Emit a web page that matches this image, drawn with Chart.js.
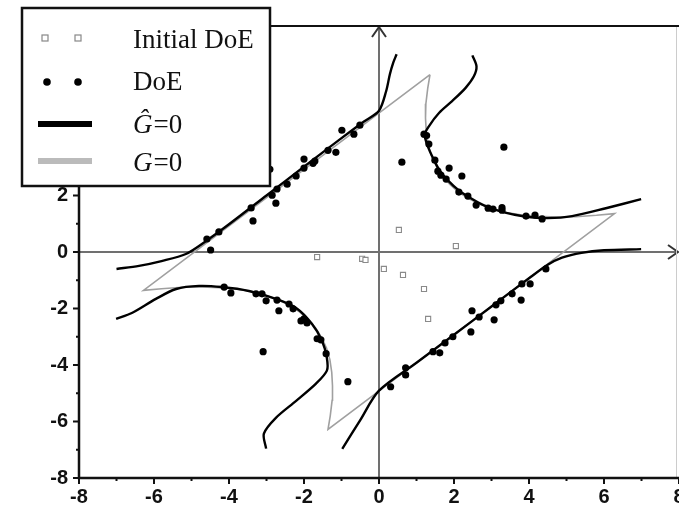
<!DOCTYPE html>
<html>
<head>
<meta charset="utf-8">
<script src="https://cdn.jsdelivr.net/npm/chart.js@4.4.0/dist/chart.umd.min.js"></script>
<style>
  html, body { margin: 0; padding: 0; background: #fff; }
  #wrap { width: 679px; height: 508px; }
</style>
</head>
<body>
<div id="wrap"><canvas id="limitChart"></canvas></div>
<script>
// axis ticks
var xTicks = [-8, -6, -4, -2, 0, 2, 4, 6, 8];
var yTicks = [-8, -6, -4, -2, 0, 2, 4, 6, 8];

var legendLabels = ['Initial DoE', 'DoE', 'Ĝ=0', 'G=0'];

// exact limit state G=0 (closed outline)
var limitState = [
  [1.36, 6.28], [1.30, 5.80], [1.25, 5.25], [1.24, 4.74], [1.26, 4.26], [1.31, 3.81],
  [1.40, 3.40], [1.53, 3.03], [1.69, 2.69], [1.89, 2.39], [2.12, 2.12], [2.39, 1.89],
  [2.69, 1.69], [3.03, 1.53], [3.40, 1.40], [3.81, 1.31], [4.26, 1.26], [4.74, 1.24],
  [5.25, 1.25], [5.80, 1.30], [6.28, 1.36],
  [-1.36, -6.28], [-1.30, -5.80], [-1.25, -5.25], [-1.24, -4.74], [-1.26, -4.26], [-1.31, -3.81],
  [-1.40, -3.40], [-1.53, -3.03], [-1.69, -2.69], [-1.89, -2.39], [-2.12, -2.12], [-2.39, -1.89],
  [-2.69, -1.69], [-3.03, -1.53], [-3.40, -1.40], [-3.81, -1.31], [-4.26, -1.26], [-4.74, -1.24],
  [-5.25, -1.25], [-5.80, -1.30], [-6.28, -1.36],
  [1.36, 6.28]
];

// surrogate limit state G^=0, four branches
var hatUpperLeft = [
  [-7.0, -0.60], [-6.4, -0.49], [-5.8, -0.32], [-5.15, -0.07], [-4.6, 0.40], [-4.0, 0.98],
  [-3.0, 2.0], [-2.0, 3.02], [-1.0, 4.03], [-0.4, 4.62], [0, 5.0], [0.19, 5.69],
  [0.29, 6.29], [0.38, 6.7], [0.47, 7.0]
];
var hatUpperRight = [
  [2.49, 6.96], [2.6, 6.57], [2.53, 6.22], [2.31, 5.81], [1.95, 5.34], [1.6, 4.92],
  [1.33, 4.45], [1.22, 4.15], [1.30, 3.75], [1.45, 3.30], [1.62, 2.88], [1.85, 2.52],
  [2.13, 2.18], [2.45, 1.90], [2.8, 1.65], [3.28, 1.42], [3.92, 1.25], [4.5, 1.2],
  [5.15, 1.27], [6.05, 1.55], [6.99, 1.87]
];
var hatLowerLeft = [
  [-7.01, -2.37], [-6.59, -2.16], [-5.95, -1.66], [-5.41, -1.31], [-4.8, -1.2], [-4.19, -1.24],
  [-3.47, -1.38], [-2.75, -1.66], [-2.21, -1.98], [-1.79, -2.54], [-1.52, -3.14], [-1.39, -3.75],
  [-1.39, -4.2], [-1.68, -4.66], [-2.21, -5.27], [-2.75, -5.87], [-3.07, -6.43], [-3.01, -6.96]
];
var hatLowerRight = [
  [-0.98, -6.97], [-0.5, -5.95], [0, -4.91], [1.0, -3.92], [2.0, -2.93], [3.0, -1.93],
  [4.0, -0.93], [4.5, -0.45], [4.88, -0.2], [5.4, -0.03], [6.0, 0.06], [6.99, 0.1]
];

// design of experiments
var initialDoe = [
  [-1.65, -0.18], [-0.45, -0.24], [-0.36, -0.28], [0.13, -0.6], [0.64, -0.81],
  [1.2, -1.31], [1.31, -2.37], [2.05, 0.21], [0.53, 0.78]
];
var doe = [
  [-4.49, 0.07], [-4.59, 0.46], [-4.27, 0.71], [-3.36, 1.10], [-3.41, 1.56], [-2.75, 1.73],
  [-2.85, 2.01], [-2.72, 2.23], [-2.91, 2.93], [-2.45, 2.40], [-2.21, 2.69], [-2.0, 2.97],
  [-2.0, 3.29], [-1.76, 3.14], [-1.71, 3.22], [-1.36, 3.6], [-1.15, 3.53], [-0.99, 4.31],
  [-0.67, 4.17], [-0.51, 4.49],
  [1.2, 4.17], [1.27, 4.12], [1.33, 3.82], [1.49, 3.25], [1.57, 2.86], [1.65, 2.72],
  [1.79, 2.58], [1.87, 2.97], [2.21, 2.69], [0.61, 3.18], [3.33, 3.71], [2.13, 2.12],
  [2.37, 1.98], [2.59, 1.66], [2.91, 1.55], [3.04, 1.52], [3.28, 1.48], [3.28, 1.57],
  [3.92, 1.27], [4.16, 1.31], [4.35, 1.17],
  [-4.13, -1.24], [-3.95, -1.45], [-3.28, -1.48], [-3.12, -1.48], [-3.01, -1.73], [-2.72, -1.70],
  [-2.67, -2.08], [-2.4, -1.84], [-2.29, -2.01], [-2.08, -2.44], [-2.0, -2.37], [-1.92, -2.51],
  [-1.65, -3.07], [-1.55, -3.11], [-1.41, -3.6], [-3.09, -3.53], [-0.83, -4.59],
  [0.31, -4.77], [0.71, -4.1], [0.71, -4.35], [1.44, -3.53], [1.62, -3.57], [1.76, -3.22],
  [1.97, -3.0], [2.45, -2.83], [2.48, -2.08], [2.67, -2.3], [3.07, -2.4], [3.12, -1.87],
  [3.25, -1.73], [3.55, -1.48], [3.79, -1.70], [3.81, -1.13], [4.03, -1.13], [4.45, -0.6]
];

function pts(list) {
  return list.map(function (p) { return { x: p[0], y: p[1] }; });
}

var GRAY_CURVE = '#a0a0a0';
var AXIS_GRAY = '#707070';

function hatCurve(list) {
  return {
    data: pts(list),
    showLine: true,
    borderColor: '#000',
    borderWidth: 2.4,
    pointRadius: 0,
    tension: 0.3,
    fill: false
  };
}

// axes through the origin with open arrow heads
var originAxes = {
  id: 'originAxes',
  beforeDatasetsDraw: function (chart) {
    var ctx = chart.ctx, area = chart.chartArea;
    var x0 = chart.scales.x.getPixelForValue(0);
    var y0 = chart.scales.y.getPixelForValue(0);
    var tipX = Math.min(area.right, chart.width - 1);
    ctx.save();
    ctx.strokeStyle = AXIS_GRAY;
    ctx.lineWidth = 2;
    ctx.beginPath();
    ctx.moveTo(area.left, y0); ctx.lineTo(tipX, y0);
    ctx.moveTo(x0, area.bottom); ctx.lineTo(x0, area.top + 1);
    ctx.stroke();
    ctx.strokeStyle = '#333';
    ctx.beginPath();
    ctx.moveTo(tipX - 10, y0 - 7); ctx.lineTo(tipX, y0); ctx.lineTo(tipX - 10, y0 + 7);
    ctx.moveTo(x0 - 7, area.top + 11); ctx.lineTo(x0, area.top + 1); ctx.lineTo(x0 + 7, area.top + 11);
    ctx.stroke();
    ctx.restore();
  }
};

// frame, tick marks and the legend box
var frameAndLegend = {
  id: 'frameAndLegend',
  afterDraw: function (chart) {
    var ctx = chart.ctx, area = chart.chartArea;
    var xs = chart.scales.x, ys = chart.scales.y;
    var edge = Math.min(area.right, chart.width) - 2.5;
    ctx.save();

    ctx.strokeStyle = '#ccc';
    ctx.lineWidth = 1;
    ctx.beginPath();
    ctx.moveTo(edge, area.top); ctx.lineTo(edge, area.bottom);
    ctx.stroke();

    ctx.strokeStyle = '#111';
    ctx.lineWidth = 2;
    ctx.beginPath();
    ctx.moveTo(area.left, area.top); ctx.lineTo(chart.width, area.top);
    ctx.stroke();

    ctx.lineWidth = 2.5;
    ctx.beginPath();
    ctx.moveTo(area.left, area.top); ctx.lineTo(area.left, area.bottom);
    ctx.lineTo(chart.width, area.bottom);
    ctx.stroke();

    ctx.lineWidth = 2;
    ctx.beginPath();
    for (var v = -8; v <= 8; v++) {
      var len = (v % 2 === 0) ? 6 : 3;
      var px = xs.getPixelForValue(v);
      ctx.moveTo(px, area.bottom); ctx.lineTo(px, area.bottom + len);
      var py = ys.getPixelForValue(v);
      ctx.moveTo(area.left, py); ctx.lineTo(area.left - len, py);
    }
    ctx.stroke();

    // legend
    var bx = 22, by = 8, bw = 248, bh = 178;
    ctx.fillStyle = '#fff';
    ctx.fillRect(bx, by, bw, bh);
    ctx.strokeStyle = '#111';
    ctx.lineWidth = 2.5;
    ctx.strokeRect(bx, by, bw, bh);

    var rows = [38, 82, 124, 161];
    var baselines = [48, 90, 133, 171];

    ctx.strokeStyle = '#888';
    ctx.lineWidth = 1.2;
    ctx.fillStyle = '#fff';
    [45, 78].forEach(function (cx) {
      ctx.fillRect(cx - 3, rows[0] - 3, 6, 6);
      ctx.strokeRect(cx - 3, rows[0] - 3, 6, 6);
    });
    ctx.fillStyle = '#000';
    [47, 78].forEach(function (cx) {
      ctx.beginPath();
      ctx.arc(cx, rows[1], 3.8, 0, Math.PI * 2);
      ctx.fill();
    });
    ctx.lineWidth = 6;
    ctx.strokeStyle = '#000';
    ctx.beginPath(); ctx.moveTo(38, rows[2]); ctx.lineTo(92, rows[2]); ctx.stroke();
    ctx.strokeStyle = '#bbb';
    ctx.beginPath(); ctx.moveTo(38, rows[3]); ctx.lineTo(92, rows[3]); ctx.stroke();

    ctx.fillStyle = '#111';
    ctx.textBaseline = 'alphabetic';
    ctx.textAlign = 'left';
    legendLabels.forEach(function (label, i) {
      var tx = 133;
      var first = label.charAt(0);
      if (first === 'G' || first === 'Ĝ') {
        ctx.font = 'italic 27px "Liberation Serif"';
        ctx.fillText(first, tx, baselines[i]);
        tx += ctx.measureText(first).width + 1;
        label = label.slice(1);
      }
      ctx.font = '27px "Liberation Serif"';
      ctx.fillText(label, tx, baselines[i]);
    });

    ctx.restore();
  }
};

var tickFont = { family: '"Liberation Sans", Arial, sans-serif', size: 20, weight: 'bold' };

new Chart(document.getElementById('limitChart'), {
  type: 'scatter',
  data: {
    datasets: [
      {
        label: legendLabels[1],
        data: pts(doe),
        pointRadius: 3.6,
        pointBackgroundColor: '#000',
        pointBorderWidth: 0,
        pointHoverRadius: 3.6
      },
      {
        label: legendLabels[0],
        data: pts(initialDoe),
        pointStyle: 'rect',
        pointRadius: 3.6,
        pointBackgroundColor: '#fff',
        pointBorderColor: '#8a8a8a',
        pointBorderWidth: 1.1
      },
      hatCurve(hatUpperLeft),
      hatCurve(hatUpperRight),
      hatCurve(hatLowerLeft),
      hatCurve(hatLowerRight),
      {
        label: legendLabels[3],
        data: pts(limitState),
        showLine: true,
        borderColor: GRAY_CURVE,
        borderWidth: 1.6,
        pointRadius: 0,
        tension: 0,
        fill: false
      }
    ]
  },
  options: {
    responsive: true,
    maintainAspectRatio: false,
    animation: false,
    layout: { autoPadding: false, padding: { top: 26, right: -1, left: 0, bottom: 0 } },
    plugins: {
      legend: { display: false },
      tooltip: { enabled: false }
    },
    scales: {
      x: {
        type: 'linear',
        min: -8,
        max: 8,
        afterBuildTicks: function (s) { s.ticks = xTicks.map(function (v) { return { value: v }; }); },
        ticks: { font: tickFont, color: '#111', padding: 7, maxRotation: 0, autoSkip: false },
        grid: { display: false, drawTicks: false },
        border: { display: false },
        afterFit: function (s) { s.height = 30; s.paddingLeft = 0; s.paddingRight = 0; }
      },
      y: {
        type: 'linear',
        min: -8,
        max: 8,
        afterBuildTicks: function (s) { s.ticks = yTicks.map(function (v) { return { value: v }; }); },
        ticks: { font: tickFont, color: '#111', padding: 11, autoSkip: false },
        grid: { display: false, drawTicks: false },
        border: { display: false },
        afterFit: function (s) { s.width = 79; s.paddingTop = 0; s.paddingBottom = 0; }
      }
    }
  },
  plugins: [originAxes, frameAndLegend]
});
</script>
</body>
</html>
